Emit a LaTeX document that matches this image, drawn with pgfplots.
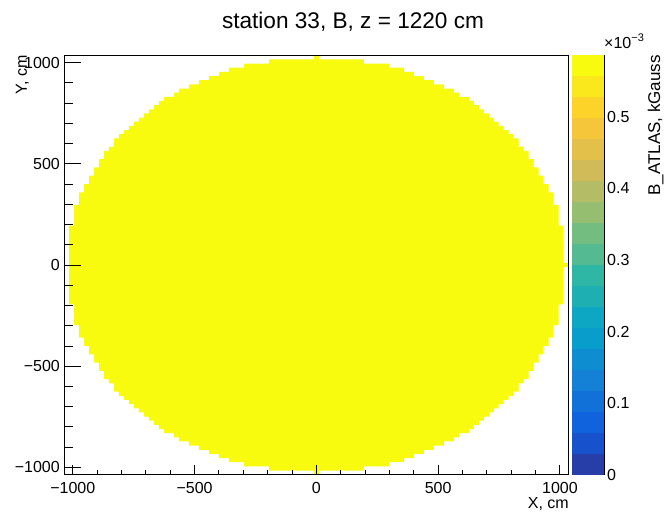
\documentclass[border=0pt]{standalone}
\usepackage{pgfplots}
\pgfplotsset{compat=1.18}
\usepackage{pgfplotstable}
\usepackage{fontspec}
\setmainfont{Liberation Sans}
\definecolor{disk}{RGB}{249,251,14}
\definecolor{c0}{RGB}{39,61,168}
\definecolor{c1}{RGB}{23,81,203}
\definecolor{c2}{RGB}{16,99,220}
\definecolor{c3}{RGB}{18,113,217}
\definecolor{c4}{RGB}{20,128,214}
\definecolor{c5}{RGB}{14,142,209}
\definecolor{c6}{RGB}{9,157,204}
\definecolor{c7}{RGB}{13,167,195}
\definecolor{c8}{RGB}{30,175,179}
\definecolor{c9}{RGB}{46,183,164}
\definecolor{c10}{RGB}{83,186,145}
\definecolor{c11}{RGB}{116,189,128}
\definecolor{c12}{RGB}{150,190,113}
\definecolor{c13}{RGB}{180,189,101}
\definecolor{c14}{RGB}{209,187,89}
\definecolor{c15}{RGB}{227,192,74}
\definecolor{c16}{RGB}{245,198,58}
\definecolor{c17}{RGB}{253,211,42}
\definecolor{c18}{RGB}{251,232,28}
\definecolor{c19}{RGB}{249,251,14}
% outline of the filled bins, in bin units (bin width 20.515 cm)
\pgfplotstableread{
x y
-49.5 9.5
-48.5 14.5
-47.5 17.5
-46.5 19.5
-45.5 21.5
-44.5 23.5
-43.5 25.5
-42.5 27.5
-41.5 28.5
-40.5 30.5
-39.5 31.5
-38.5 32.5
-37.5 33.5
-36.5 34.5
-35.5 35.5
-34.5 36.5
-33.5 37.5
-32.5 38.5
-31.5 39.5
-30.5 40.5
-28.5 41.5
-27.5 42.5
-25.5 43.5
-23.5 44.5
-21.5 45.5
-19.5 46.5
-17.5 47.5
-14.5 48.5
-9.5 49.5
-0.5 50.5
0.5 49.5
9.5 48.5
14.5 47.5
17.5 46.5
19.5 45.5
21.5 44.5
23.5 43.5
25.5 42.5
27.5 41.5
28.5 40.5
30.5 39.5
31.5 38.5
32.5 37.5
33.5 36.5
34.5 35.5
35.5 34.5
36.5 33.5
37.5 32.5
38.5 31.5
39.5 30.5
40.5 28.5
41.5 27.5
42.5 25.5
43.5 23.5
44.5 21.5
45.5 19.5
46.5 17.5
47.5 14.5
48.5 9.5
49.5 0.5
50.5 0.5
50.5 -0.5
49.5 -9.5
48.5 -14.5
47.5 -17.5
46.5 -19.5
45.5 -21.5
44.5 -23.5
43.5 -25.5
42.5 -27.5
41.5 -28.5
40.5 -30.5
39.5 -31.5
38.5 -32.5
37.5 -33.5
36.5 -34.5
35.5 -35.5
34.5 -36.5
33.5 -37.5
32.5 -38.5
31.5 -39.5
30.5 -40.5
28.5 -41.5
27.5 -42.5
25.5 -43.5
23.5 -44.5
21.5 -45.5
19.5 -46.5
17.5 -47.5
14.5 -48.5
9.5 -49.5
0.5 -50.5
-0.5 -49.5
-9.5 -48.5
-14.5 -47.5
-17.5 -46.5
-19.5 -45.5
-21.5 -44.5
-23.5 -43.5
-25.5 -42.5
-27.5 -41.5
-28.5 -40.5
-30.5 -39.5
-31.5 -38.5
-32.5 -37.5
-33.5 -36.5
-34.5 -35.5
-35.5 -34.5
-36.5 -33.5
-37.5 -32.5
-38.5 -31.5
-39.5 -30.5
-40.5 -28.5
-41.5 -27.5
-42.5 -25.5
-43.5 -23.5
-44.5 -21.5
-45.5 -19.5
-46.5 -17.5
-47.5 -14.5
-48.5 -9.5
-49.5 -9.5
}\disktable
\newcommand{\lab}{\fontsize{16}{16}\selectfont}
\begin{document}
\begin{tikzpicture}[x=1pt,y=1pt]
\path[use as bounding box] (0,0) rectangle (664,513);
% main axis: histogram and x ticks
\begin{axis}[name=main, at={(64pt,38.3pt)}, anchor=south west,
  width=504.7pt, height=419.4pt, scale only axis,
  xmin=-1036, xmax=1036, ymin=-1036, ymax=1036,
  xtick={-1000,-500,0,500,1000},
  xticklabels={−1000,−500,0,500,1000},
  ytick=\empty, minor x tick num=4,
  tick align=inside, xtick pos=bottom,
  major tick length=10pt, minor tick length=5pt,
  every tick/.style={black, line width=0.9pt},
  axis line style={line width=0.9pt},
  xticklabel style={font=\lab, inner sep=0pt, yshift=-7pt},
  axis on top]
\addplot[const plot, fill=disk, draw=none]
  table[x expr=\thisrow{x}*20.515, y expr=\thisrow{y}*20.515] {\disktable};
\end{axis}
% overlay axis: y ticks
\begin{axis}[at={(64pt,38.3pt)}, anchor=south west,
  width=504.7pt, height=419.4pt, scale only axis,
  xmin=-1036, xmax=1036, ymin=-1036, ymax=1036,
  xtick=\empty,
  ytick={-1000,-500,0,500,1000},
  yticklabels={−1000,−500,0,500,1000},
  minor y tick num=4,
  tick align=inside, ytick pos=left,
  major tick length=17pt, minor tick length=8.5pt,
  every tick/.style={black, line width=0.9pt},
  axis line style={line width=0.9pt},
  yticklabel style={font=\lab, inner sep=0pt, xshift=-4pt}]
\end{axis}
% colour scale
\begin{axis}[at={(572pt,38.3pt)}, anchor=south west,
  width=32pt, height=419.4pt, scale only axis,
  xmin=0, xmax=1, ymin=0, ymax=0.586,
  axis x line=none, axis y line*=right,
  ytick={0,0.1,0.2,0.3,0.4,0.5},
  yticklabels={0,0.1,0.2,0.3,0.4,0.5},
  yticklabel pos=right,
  tick align=inside, major tick length=16pt,
  every tick/.style={black, line width=0.9pt},
  axis line style={line width=0.9pt, -},
  yticklabel style={font=\lab, inner sep=0pt, xshift=3pt}]
\addplot[fill=c0, draw=none] coordinates {(0,0) (1,0) (1,0.0293) (0,0.0293)};
\addplot[fill=c1, draw=none] coordinates {(0,0.0293) (1,0.0293) (1,0.0586) (0,0.0586)};
\addplot[fill=c2, draw=none] coordinates {(0,0.0586) (1,0.0586) (1,0.0879) (0,0.0879)};
\addplot[fill=c3, draw=none] coordinates {(0,0.0879) (1,0.0879) (1,0.1172) (0,0.1172)};
\addplot[fill=c4, draw=none] coordinates {(0,0.1172) (1,0.1172) (1,0.1465) (0,0.1465)};
\addplot[fill=c5, draw=none] coordinates {(0,0.1465) (1,0.1465) (1,0.1758) (0,0.1758)};
\addplot[fill=c6, draw=none] coordinates {(0,0.1758) (1,0.1758) (1,0.2051) (0,0.2051)};
\addplot[fill=c7, draw=none] coordinates {(0,0.2051) (1,0.2051) (1,0.2344) (0,0.2344)};
\addplot[fill=c8, draw=none] coordinates {(0,0.2344) (1,0.2344) (1,0.2637) (0,0.2637)};
\addplot[fill=c9, draw=none] coordinates {(0,0.2637) (1,0.2637) (1,0.2930) (0,0.2930)};
\addplot[fill=c10, draw=none] coordinates {(0,0.2930) (1,0.2930) (1,0.3223) (0,0.3223)};
\addplot[fill=c11, draw=none] coordinates {(0,0.3223) (1,0.3223) (1,0.3516) (0,0.3516)};
\addplot[fill=c12, draw=none] coordinates {(0,0.3516) (1,0.3516) (1,0.3809) (0,0.3809)};
\addplot[fill=c13, draw=none] coordinates {(0,0.3809) (1,0.3809) (1,0.4102) (0,0.4102)};
\addplot[fill=c14, draw=none] coordinates {(0,0.4102) (1,0.4102) (1,0.4395) (0,0.4395)};
\addplot[fill=c15, draw=none] coordinates {(0,0.4395) (1,0.4395) (1,0.4688) (0,0.4688)};
\addplot[fill=c16, draw=none] coordinates {(0,0.4688) (1,0.4688) (1,0.4981) (0,0.4981)};
\addplot[fill=c17, draw=none] coordinates {(0,0.4981) (1,0.4981) (1,0.5274) (0,0.5274)};
\addplot[fill=c18, draw=none] coordinates {(0,0.5274) (1,0.5274) (1,0.5567) (0,0.5567)};
\addplot[fill=c19, draw=none] coordinates {(0,0.5567) (1,0.5567) (1,0.5860) (0,0.5860)};
\end{axis}
% texts
\node[anchor=base, inner sep=0pt] at (353,484) {\fontsize{22.6}{22.6}\selectfont station 33, B, z = 1220 cm};
\node[anchor=north east, inner sep=0pt] at (569,16) {\lab X, cm};
\node[rotate=90, anchor=base east, inner sep=0pt] at (27,458) {\lab Y, cm};
\node[rotate=90, anchor=base east, inner sep=0pt] at (660,458) {\fontsize{17}{17}\selectfont B\_ATLAS, kGauss};
\node[anchor=base west, inner sep=0pt] at (604,464) {\lab ×10\raisebox{0.45em}{\fontsize{11}{11}\selectfont −3}};
\end{tikzpicture}
\end{document}
